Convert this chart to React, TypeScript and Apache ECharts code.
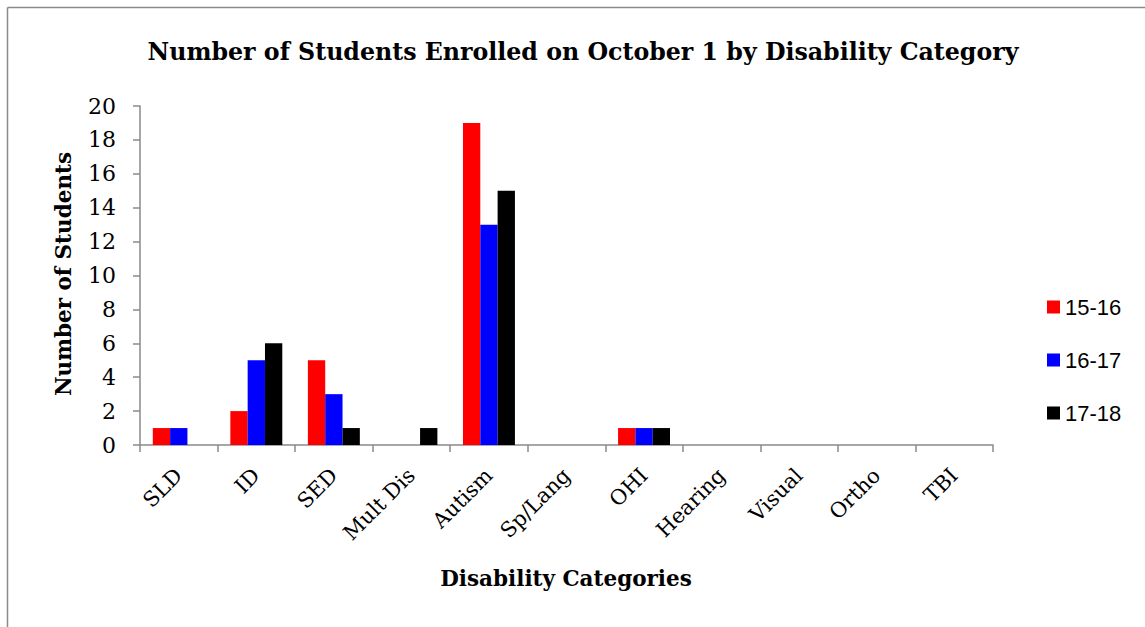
import React, { useEffect, useRef } from "react";
import * as echarts from "echarts";

const categories = ["SLD", "ID", "SED", "Mult Dis", "Autism", "Sp/Lang", "OHI", "Hearing", "Visual", "Ortho", "TBI"];
const seriesNames = ["15-16", "16-17", "17-18"];
const values1516 = [1, 2, 5, 0, 19, 0, 1, 0, 0, 0, 0];
const values1617 = [1, 5, 3, 0, 13, 0, 1, 0, 0, 0, 0];
const values1718 = [0, 6, 1, 1, 15, 0, 1, 0, 0, 0, 0];
const seriesColors = ["#ff0000", "#0000ff", "#000000"];
const yTicks = [0, 20, 2];

const SERIF = "'DejaVu Serif', 'Liberation Serif', serif";
const SANS = "'Liberation Sans', Arial, sans-serif";

export default function App() {
  const ref = useRef<HTMLDivElement>(null);
  useEffect(() => {
    if (!ref.current) return;
    const chart = echarts.init(ref.current, null, { renderer: "svg" });
    const data = [values1516, values1617, values1718];
    chart.setOption({
      animation: false,
      backgroundColor: "#ffffff",
      grid: { left: 140, top: 106, right: 152, bottom: 182, containLabel: false },
      legend: {
        orient: "vertical",
        left: 1042,
        top: 289,
        itemWidth: 13,
        itemHeight: 13,
        itemGap: 27,
        icon: "rect",
        data: seriesNames,
        textStyle: { fontFamily: SANS, fontSize: 22, color: "#000", lineHeight: 22, padding: [4, 0, 0, 0] },
      },
      xAxis: {
        type: "category",
        data: categories,
        axisLine: { lineStyle: { color: "#8a8a8a", width: 1.5 } },
        axisTick: { show: true, length: 7, alignWithLabel: false, lineStyle: { color: "#8a8a8a", width: 1.5 } },
        axisLabel: {
          rotate: 45,
          margin: 27,
          fontFamily: SERIF,
          fontSize: 21,
          color: "#000",
          interval: 0,
        },
      },
      yAxis: {
        type: "value",
        min: yTicks[0],
        max: yTicks[1],
        interval: yTicks[2],
        axisLine: { show: true, lineStyle: { color: "#8a8a8a", width: 1.5 } },
        axisTick: { show: true, length: 7, lineStyle: { color: "#8a8a8a", width: 1.5 } },
        splitLine: { show: false },
        axisLabel: { margin: 24, fontFamily: SERIF, fontSize: 22, color: "#000" },
      },
      series: seriesNames.map((name, i) => ({
        name,
        type: "bar",
        data: data[i],
        barGap: "0%",
        barCategoryGap: "33%",
        itemStyle: { color: seriesColors[i] },
      })),
      graphic: [
        { type: "line", shape: { x1: 7.5, y1: 7.5, x2: 1145, y2: 7.5 }, style: { stroke: "#8a8a8a", lineWidth: 1.5 } },
        { type: "line", shape: { x1: 7.5, y1: 7.5, x2: 7.5, y2: 627 }, style: { stroke: "#8a8a8a", lineWidth: 1.5 } },
        {
          type: "text",
          x: 583,
          y: 52,
          style: {
            text: "Number of Students Enrolled on October 1 by Disability Category",
            fontFamily: SERIF,
            fontWeight: "bold",
            fontSize: 23.7,
            fill: "#000",
            textAlign: "center",
            textVerticalAlign: "middle",
          },
        },
        {
          type: "text",
          x: 566,
          y: 578,
          style: {
            text: "Disability Categories",
            fontFamily: SERIF,
            fontWeight: "bold",
            fontSize: 21.5,
            fill: "#000",
            textAlign: "center",
            textVerticalAlign: "middle",
          },
        },
        {
          type: "text",
          x: 63,
          y: 274,
          rotation: Math.PI / 2,
          style: {
            text: "Number of Students",
            fontFamily: SERIF,
            fontWeight: "bold",
            fontSize: 21.5,
            fill: "#000",
            textAlign: "center",
            textVerticalAlign: "middle",
          },
        },
      ],
    });
    return () => chart.dispose();
  }, []);
  return <div ref={ref} style={{ position: "absolute", left: 0, top: 0, width: 1145, height: 627 }} />;
}
